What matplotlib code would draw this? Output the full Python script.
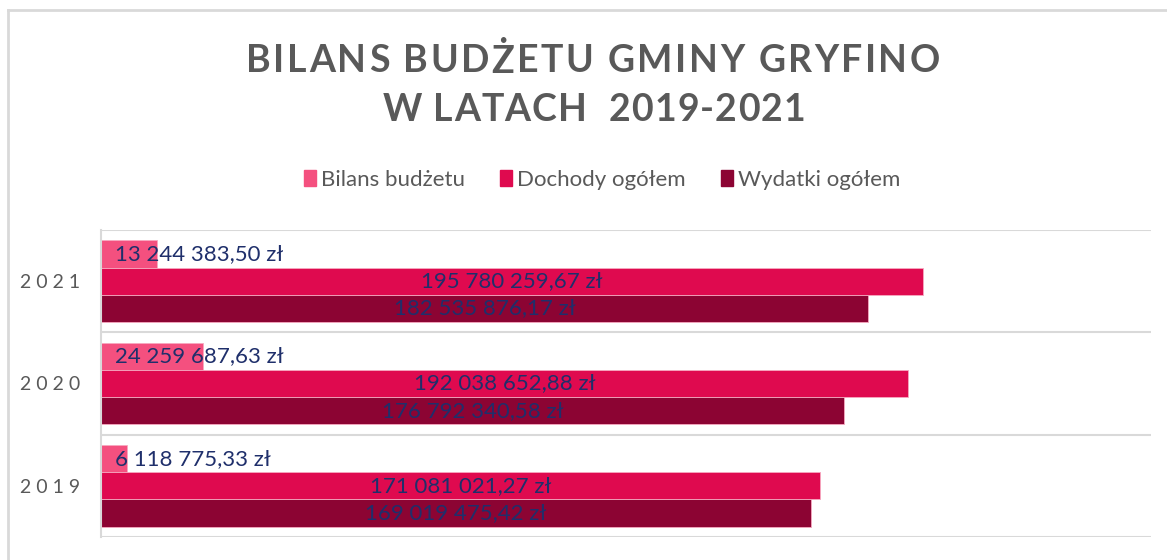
import matplotlib
matplotlib.use("Agg")
import matplotlib.pyplot as plt
from matplotlib.lines import Line2D
from matplotlib.patches import Rectangle

years = ["2019", "2020", "2021"]
series_names = ["Bilans budżetu", "Dochody ogółem", "Wydatki ogółem"]
bilans = [6118775.33, 24259687.63, 13244383.50]
dochody = [171081021.27, 192038652.88, 195780259.67]
wydatki = [169019475.42, 176792340.58, 182535876.17]
colors = ["#F4507F", "#DF0A4F", "#8C0433"]
title_lines = ["BILANS BUDŻETU GMINY GRYFINO", "W LATACH  2019-2021"]

plt.rcParams['font.family'] = ['Lato', 'DejaVu Sans']

W, H = 1167, 560
fig = plt.figure(figsize=(W / 100, H / 100), dpi=100)
fig.patch.set_facecolor("white")
renderer = fig.canvas.get_renderer()

# chart frame
fig.add_artist(Line2D([8 / W, 1.0], [1 - 10 / H, 1 - 10 / H], color="#D9D9D9", lw=2))
fig.add_artist(Line2D([8 / W, 8 / W], [0, 1 - 10 / H], color="#D9D9D9", lw=2))

ax = fig.add_axes([101 / W, (H - 537) / H, (1151 - 101) / W, (537 - 230) / H])


def fmt(v):
    s = f"{v:,.2f}"
    ip, dp = s.split(".")
    return ip.replace(",", " ") + "," + dp + " zł"


h = 0.265
offsets = [h, 0, -h]
data = [bilans, dochody, wydatki]
for k, (vals, c, off) in enumerate(zip(data, colors, offsets)):
    ys = [i + off for i in range(len(years))]
    ax.barh(ys, vals, height=h, color=c, edgecolor="#F7A9C0", linewidth=0.6, label=series_names[k])
    for y, v in zip(ys, vals):
        if k == 0:
            ax.text(3.3e6, y, fmt(v), ha="left", va="center", fontsize=16, color="#1F2F6B")
        else:
            ax.text(v / 2, y, fmt(v), ha="center", va="center", fontsize=16, color="#1F2F6B")

ax.set_xlim(0, 250e6)
ax.set_ylim(-0.5, 2.5)
for yy in [-0.5, 0.5, 1.5, 2.5]:
    ax.axhline(yy, color="#D9D9D9", lw=1.5, zorder=0)
ax.set_xticks([])
ax.set_yticks(range(len(years)))
ax.set_yticklabels([" ".join(y) for y in years], fontsize=14, color="#595959")
ax.tick_params(axis="y", length=0, pad=15)
for s in ["top", "right", "bottom"]:
    ax.spines[s].set_visible(False)
ax.spines["left"].set_color("#D9D9D9")
ax.spines["left"].set_linewidth(1.5)


def text_width(s, **kw):
    t = fig.text(0, 0, s, **kw)
    w = t.get_window_extent(renderer).width
    t.remove()
    return w


def spaced_text(s, xc_px, y_px, target_w, **kw):
    bar_w = text_width("|", **kw)
    pos = [text_width(s[:i] + "|", **kw) - bar_w if i > 0 else 0.0 for i in range(len(s))]
    natural = text_width(s, **kw)
    track = (target_w - natural) / (len(s) - 1)
    x0 = xc_px - target_w / 2
    for i, ch in enumerate(s):
        if ch == " ":
            continue
        fig.text((x0 + pos[i] + i * track) / W, 1 - y_px / H, ch, ha="left", va="center", **kw)


tkw = dict(fontsize=27, color="#595959", fontweight="bold")
spaced_text(title_lines[0], 593, 61, 694, **tkw)
spaced_text(title_lines[1], 594, 110, 423, **tkw)

handles = [Rectangle((0, 0), 1, 1, color=c) for c in colors]
fig.legend(handles, series_names, loc="center", bbox_to_anchor=(602 / W, 1 - 180 / H),
           ncol=3, frameon=False, fontsize=16, handlelength=0.55, handleheight=0.75,
           handletextpad=0.2, columnspacing=1.6, labelcolor="#595959")

fig.savefig("out.png", dpi=100, facecolor="white")
